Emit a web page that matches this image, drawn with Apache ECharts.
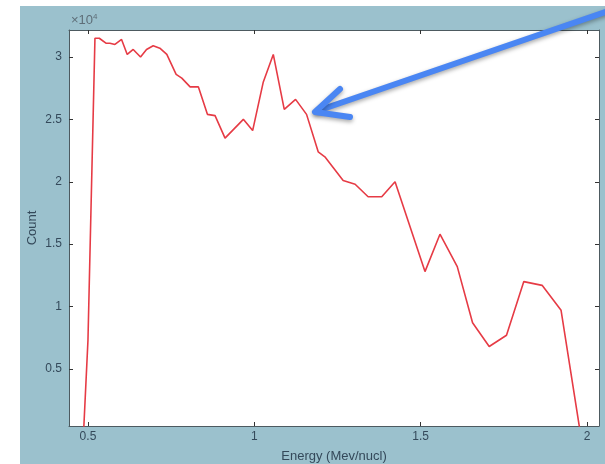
<!DOCTYPE html>
<html>
<head>
<meta charset="utf-8">
<script src="https://cdn.jsdelivr.net/npm/echarts@6/dist/echarts.min.js"></script>
<style>
html,body{margin:0;padding:0;background:#ffffff;}
#chart{width:605px;height:464px;}
</style>
</head>
<body>
<div id="chart"></div>
<script>
// Energy (MeV/nucl) and counts
const energy = [0.485, 0.500, 0.521, 0.534, 0.554, 0.566, 0.581, 0.601, 0.618, 0.636,
  0.658, 0.676, 0.696, 0.716, 0.737, 0.765, 0.782, 0.807, 0.832, 0.859,
  0.882, 0.912, 0.967, 0.995, 1.027, 1.057, 1.090, 1.124, 1.157, 1.192,
  1.212, 1.267, 1.303, 1.342, 1.383, 1.423, 1.513, 1.558, 1.610, 1.656,
  1.706, 1.758, 1.810, 1.865, 1.922, 1.991];
const counts = [-1100, 7300, 31500, 31500, 31100, 31100, 31000, 31400, 30200, 30600,
  30000, 30600, 30900, 30700, 30200, 28600, 28300, 27600, 27600, 25400,
  25300, 23500, 25000, 24100, 28000, 30200, 25800, 26600, 25400, 22400,
  22000, 20100, 19800, 18800, 18800, 20000, 12800, 15800, 13200, 8700,
  6800, 7700, 12000, 11700, 9700, -2000];
const xTicks = [0.5, 1, 1.5, 2];
const yTicks = [5000, 10000, 15000, 20000, 25000, 30000];

const chart = echarts.init(document.getElementById('chart'), null, {renderer: 'canvas'});
const labelColor = '#34495a';
const axisColor = '#4d5a60';
const font = 'Liberation Sans, Arial, sans-serif';

const commonX = {
  type: 'value', min: 0.443, max: 2.036,
  axisLine: {show: true, onZero: false, lineStyle: {color: axisColor, width: 1}},
  splitLine: {show: false}
};
const commonY = {
  type: 'value', min: 430, max: 32160,
  axisLine: {show: true, onZero: false, lineStyle: {color: axisColor, width: 1}},
  splitLine: {show: false}
};

chart.setOption({
  animation: false,
  backgroundColor: '#ffffff',
  grid: {left: 69, right: 6, top: 30, bottom: 38, show: true, backgroundColor: '#ffffff', borderWidth: 0,
    outerBoundsMode: 'none', containLabel: false},
  xAxis: [
    Object.assign({}, commonX, {
      position: 'bottom',
      name: 'Energy (Mev/nucl)', nameLocation: 'middle', nameGap: 24, nameMoveOverlap: false,
      nameTextStyle: {color: labelColor, fontSize: 13, fontFamily: font},
      axisTick: {show: true, inside: true, length: 4, customValues: xTicks, lineStyle: {color: '#333'}},
      axisLabel: {show: true, margin: 5, color: labelColor, fontSize: 12, fontFamily: font,
        customValues: xTicks, formatter: v => String(v)}
    }),
    Object.assign({}, commonX, {
      position: 'top',
      axisTick: {show: true, inside: true, length: 4, customValues: xTicks, lineStyle: {color: '#333'}},
      axisLabel: {show: false}
    })
  ],
  yAxis: [
    Object.assign({}, commonY, {
      position: 'left',
      name: 'Count', nameLocation: 'middle', nameGap: 30, nameRotate: 90, nameMoveOverlap: false,
      nameTextStyle: {color: labelColor, fontSize: 13, fontFamily: font},
      axisTick: {show: true, inside: true, length: 4, customValues: yTicks, lineStyle: {color: '#333'}},
      axisLabel: {show: true, margin: 7, color: labelColor, fontSize: 12, fontFamily: font,
        customValues: yTicks, formatter: v => String(v / 10000)}
    }),
    Object.assign({}, commonY, {
      position: 'right',
      axisTick: {show: true, inside: true, length: 4, customValues: yTicks, lineStyle: {color: '#333'}},
      axisLabel: {show: false}
    })
  ],
  series: [{
    type: 'line',
    xAxisIndex: 0, yAxisIndex: 0,
    data: energy.map((e, i) => [e, counts[i]]),
    showSymbol: false,
    smooth: false,
    clip: true,
    lineStyle: {color: '#e63b45', width: 1.6},
    z: 5
  }],
  graphic: [
    {type: 'rect', z: -10, silent: true,
      shape: {x: 20, y: 6, width: 590, height: 470},
      style: {fill: '#9bc1cd'}},
    {type: 'text', left: 71, top: 13, z: 10,
      style: {text: '×10{sup|4}', fill: '#5e6e78', font: '13px ' + font,
        rich: {sup: {fontSize: 8, fill: '#5e6e78', verticalAlign: 'top', padding: [0, 0, 7, 0]}}}},
    {type: 'polyline', z: 20, silent: true,
      shape: {points: [[620, 7], [317, 111]]},
      style: {stroke: '#4a86f3', lineWidth: 6, lineCap: 'round', lineJoin: 'round', fill: null,
        shadowBlur: 4, shadowColor: 'rgba(0,0,0,0.35)', shadowOffsetY: 2}},
    {type: 'polyline', z: 20, silent: true,
      shape: {points: [[340, 89], [315, 112], [350, 117]]},
      style: {stroke: '#4a86f3', lineWidth: 6, lineCap: 'round', lineJoin: 'round', fill: null,
        shadowBlur: 4, shadowColor: 'rgba(0,0,0,0.35)', shadowOffsetY: 2}}
  ]
});
</script>
</body>
</html>
